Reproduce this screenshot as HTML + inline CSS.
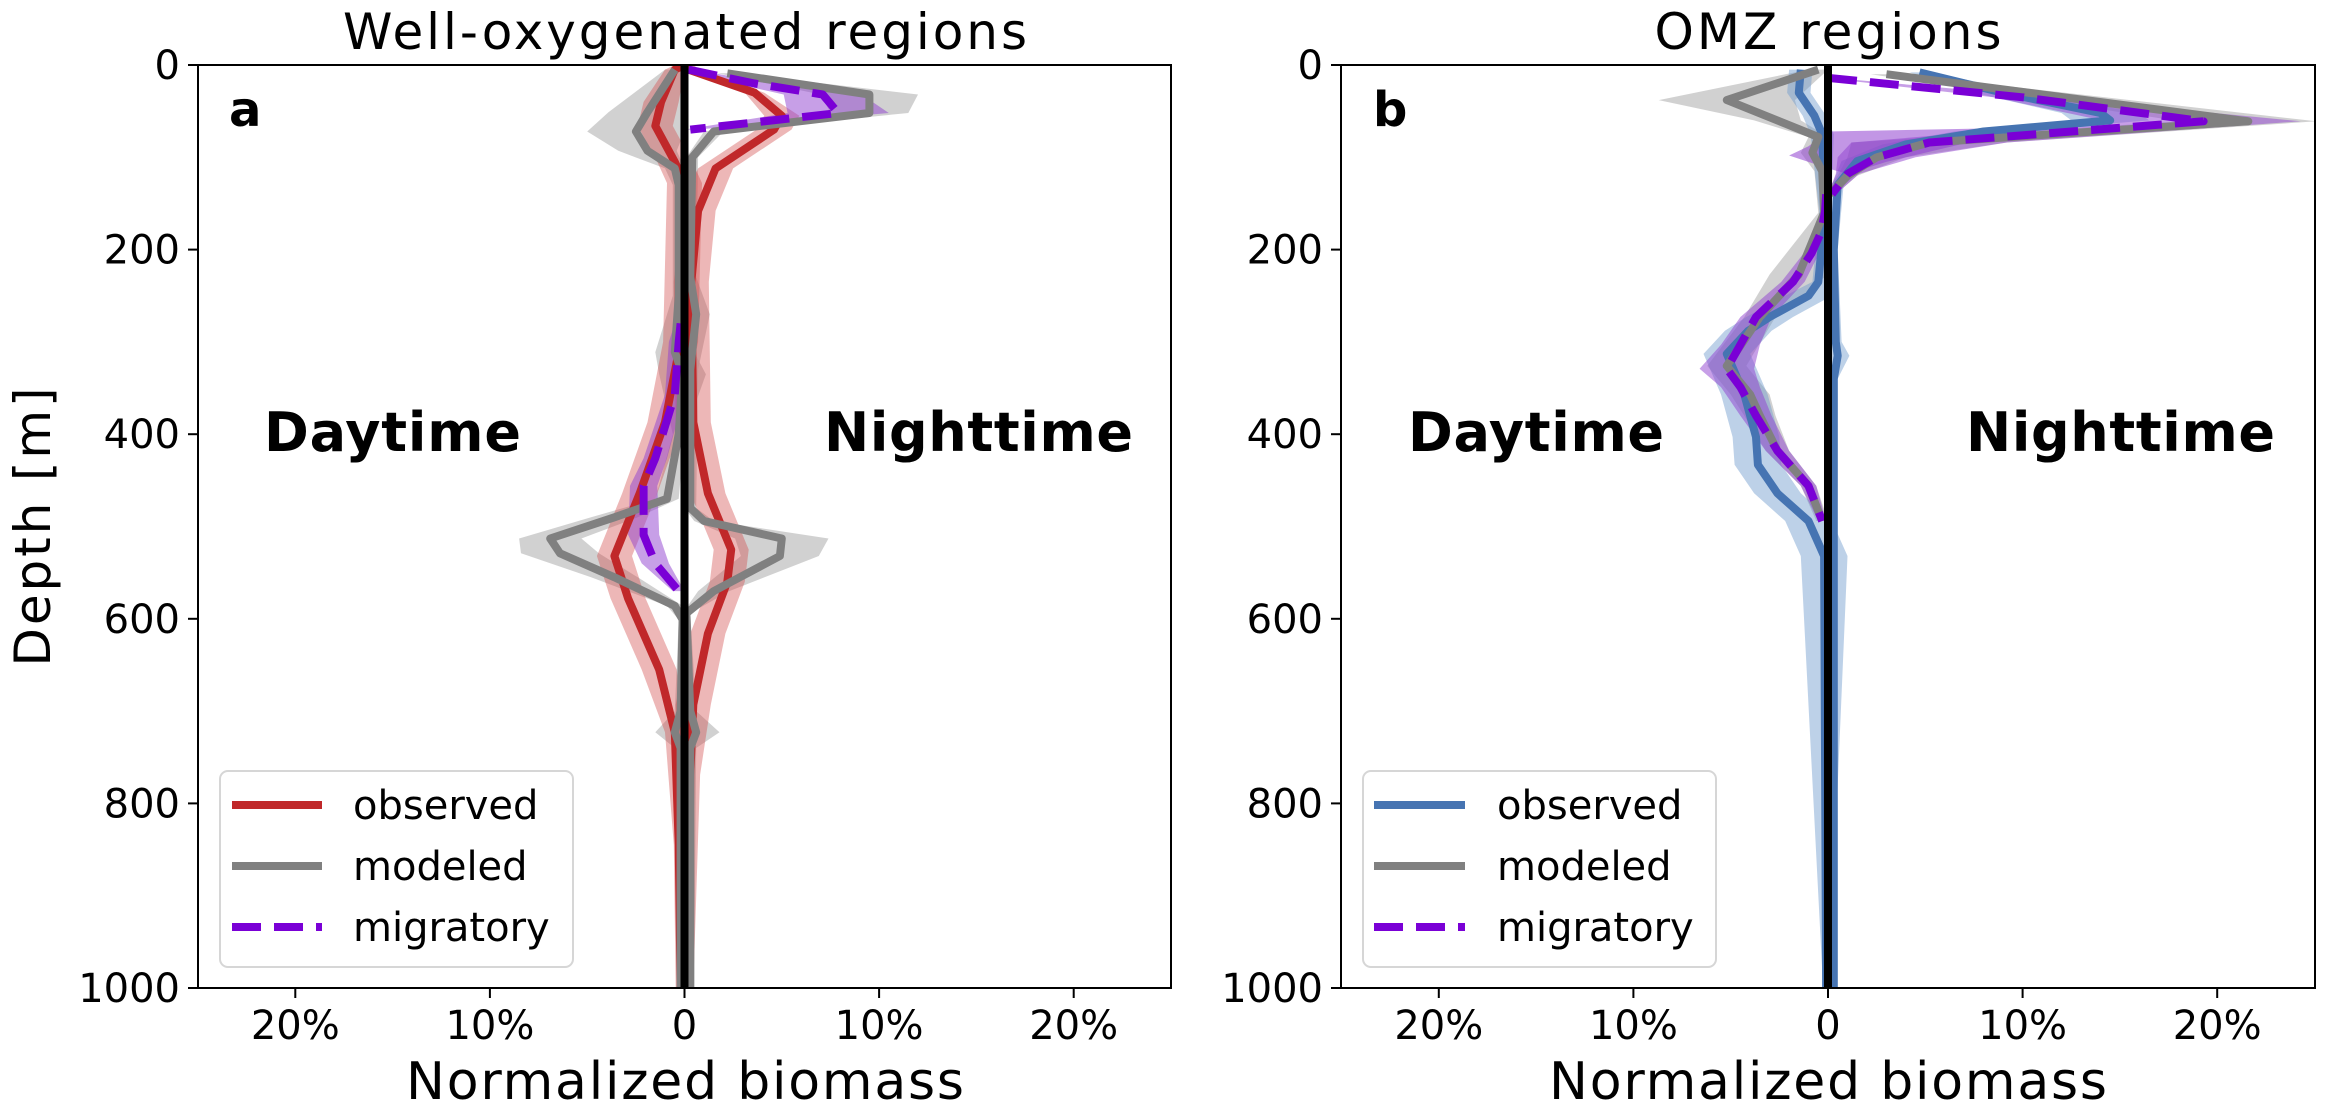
<!DOCTYPE html>
<html><head><meta charset="utf-8"><style>
html,body{margin:0;padding:0;background:#fff}
svg{display:block;font-family:"DejaVu Sans","Liberation Sans",sans-serif}
</style></head><body>
<svg id="s" width="2329" height="1105" viewBox="0 0 2329 1105" xmlns="http://www.w3.org/2000/svg">
<defs>
<clipPath id="ca"><rect x="198" y="65" width="973" height="923"/></clipPath>
<clipPath id="cb"><rect x="1341" y="65" width="974" height="923"/></clipPath>
</defs>
<g id="ga" clip-path="url(#ca)"></g>
<g id="gb" clip-path="url(#cb)"></g>
<g id="axes" fill="none" stroke="#000" stroke-width="2">
<rect x="198" y="65" width="973" height="923"/>
<rect x="1341" y="65" width="974" height="923"/>
</g>
<g id="ticks" stroke="#000" stroke-width="2"></g>
<g font-size="40" fill="#000" id="labels"></g>
<text x="685" y="49" font-size="50" text-anchor="middle" textLength="684">Well-oxygenated regions</text>
<text x="1828" y="49" font-size="50" text-anchor="middle" textLength="347">OMZ regions</text>
<text x="685" y="1099" font-size="52" text-anchor="middle" textLength="558">Normalized biomass</text>
<text x="1828" y="1099" font-size="52" text-anchor="middle" textLength="558">Normalized biomass</text>
<text transform="translate(50,527) rotate(-90)" font-size="50" text-anchor="middle" textLength="279">Depth [m]</text>
<text x="229" y="126" font-size="48" font-weight="bold">a</text>
<text x="1373" y="126" font-size="48" font-weight="bold">b</text>
<g font-weight="bold" font-size="54">
<text x="264" y="451" textLength="257">Daytime</text>
<text x="824" y="451" textLength="309">Nighttime</text>
<text x="1408" y="451" textLength="256">Daytime</text>
<text x="1966" y="451" textLength="309">Nighttime</text>
</g>
<g>
<rect x="220" y="771" width="353" height="196" rx="8" fill="#fff" stroke="#d6d6d6" stroke-width="2"/>
<line x1="232" y1="805" x2="322" y2="805" stroke="#c0282a" stroke-width="8"/>
<line x1="232" y1="866" x2="322" y2="866" stroke="#808080" stroke-width="8"/>
<line x1="232" y1="927" x2="322" y2="927" stroke="#7a00d6" stroke-width="8" stroke-dasharray="29,13"/>
<text x="353" y="819" font-size="40">observed</text>
<text x="353" y="880" font-size="40">modeled</text>
<text x="353" y="941" font-size="40">migratory</text>
<rect x="1363" y="771" width="353" height="196" rx="8" fill="#fff" stroke="#d6d6d6" stroke-width="2"/>
<line x1="1374" y1="805" x2="1465" y2="805" stroke="#4674b2" stroke-width="8"/>
<line x1="1374" y1="866" x2="1465" y2="866" stroke="#808080" stroke-width="8"/>
<line x1="1374" y1="927" x2="1465" y2="927" stroke="#7a00d6" stroke-width="8" stroke-dasharray="29,13"/>
<text x="1497" y="819" font-size="40">observed</text>
<text x="1497" y="880" font-size="40">modeled</text>
<text x="1497" y="941" font-size="40">migratory</text>
</g>
</svg>
<script>
var NS="http://www.w3.org/2000/svg";
function el(p,t,a){var e=document.createElementNS(NS,t);for(var k in a)e.setAttribute(k,a[k]);p.appendChild(e);return e;}
var Y=function(d){return 65+d*0.923;};
function mk(x0){return function(v){return x0+v*19.46;};}
function line(g,X,pts,col,dash){var d=pts.map(function(p,i){return (i?"L":"M")+X(p[0]).toFixed(1)+","+Y(p[1]).toFixed(1);}).join("");var a={d:d,fill:"none",stroke:col,"stroke-width":8,"stroke-linejoin":"round"};if(dash){a["stroke-dasharray"]="29,13";}el(g,"path",a);}
function band(g,X,pts,col,op){var L=[],R=[];pts.forEach(function(p){var w=p.length>2?p[2]:0.8;L.push(X(p[0]-w).toFixed(1)+","+Y(p[1]).toFixed(1));R.unshift(X(p[0]+w).toFixed(1)+","+Y(p[1]).toFixed(1));});el(g,"polygon",{points:L.concat(R).join(" "),fill:col,"fill-opacity":op});}
function poly(g,X,pts,col,op){el(g,"polygon",{points:pts.map(function(p){return X(p[0]).toFixed(1)+","+Y(p[1]).toFixed(1)}).join(" "),fill:col,"fill-opacity":op});}
function rw(p){var d=p[1];var w=d<40?0.5:(d<700?0.9:(d<780?0.5:0.25));return[p[0],p[1],w];}
function bw(p){var d=p[1];var w=d<100?0.6:(d<240?0.3:(d<540?1.2:0.15));return[p[0],p[1],w];}
// Panel a
var ga=document.getElementById("ga"),Xa=mk(684.5);
var rdA=[[0,0],[-0.5,5],[-1.2,40],[-1.5,66],[-0.5,105],[0,128],[-0.2,300],[-1,387],[-2.3,464],[-3.6,532],[-2.9,578],[-1.3,655],[-0.5,723],[-0.3,845],[-0.2,1000]];
var rnA=[[0,0],[0.2,5],[3.6,30],[5,55],[4.6,70],[1.6,112],[0.7,158],[0.35,235],[0.45,387],[1.2,464],[2.4,525],[2.2,560],[1.2,616],[0.45,693],[0.3,769],[0.2,1000]];
var gnA=[[2.2,9,0.5],[9.5,32,2.5],[9.5,52,2],[1.5,72,0.5],[0.4,100,0.3],[0.3,230,0.3],[0.6,270,0.7],[0.3,330,0.4],[0.3,480,0.3],[1,494,0.5],[5,513,2.4],[4.9,532,2],[1.5,570,0.8],[0.1,594,0.2],[0.3,700,0.3],[0.6,723,1.2],[0.3,740,0.3],[0.3,1000,0.2]];
var gdA=[[-0.5,5,0.5],[-1.9,51,2],[-2.5,72,2.5],[-1.9,93,1.5],[-0.5,112,0.5],[-0.3,130,0.3],[-0.3,250,0.3],[-0.5,311,1],[-0.1,335,1.2],[-0.3,400,0.3],[-0.9,470,0.6],[-3.6,490,1.2],[-6.9,513,1.6],[-6.4,529,2],[-3.6,555,1.2],[-0.5,586,0.4],[-0.1,601,0.2],[-0.2,700,0.3],[-0.5,723,1],[-0.2,740,0.3],[-0.2,1000,0.2]];
var pnA=[[0.2,5,0.2],[3.6,20,1],[7.1,32,2],[7.9,52,2.6],[0.3,70,0.3]];
var pdA=[[-0.2,280,0.3],[-0.3,300,0.5],[-0.5,357,0.5],[-1.5,426,0.6],[-2.1,456,0.7],[-2.1,509,0.8],[-1.5,540,0.7],[-0.3,570,0.3]];
band(ga,Xa,gnA,"#b8b8b8",0.65);band(ga,Xa,gdA,"#b8b8b8",0.65);
band(ga,Xa,rdA.map(rw),"#d24a4a",0.4);band(ga,Xa,rnA.map(rw),"#d24a4a",0.4);
band(ga,Xa,pnA,"#9040d0",0.5);band(ga,Xa,pdA,"#9040d0",0.5);
line(ga,Xa,rdA,"#c0282a");line(ga,Xa,rnA,"#c0282a");
line(ga,Xa,gdA,"#808080");line(ga,Xa,gnA,"#808080");
line(ga,Xa,pnA,"#7a00d6",1);line(ga,Xa,pdA,"#7a00d6",1);
el(ga,"line",{x1:684.5,y1:65,x2:684.5,y2:988,stroke:"#000","stroke-width":8});
// Panel b
var gb=document.getElementById("gb"),Xb=mk(1828);
var bdB=[[-1.4,5],[-1.5,30],[-0.7,55],[-0.3,75],[-0.15,158],[-0.5,235],[-1,250],[-3,273],[-4.1,288],[-5.2,313],[-4.3,357],[-3.7,403],[-3.6,433],[-2.6,464],[-1,494],[-0.2,532],[-0.1,1000]];
var bnB=[[4.7,8,0.5],[9,30,1.5],[14,52,2],[14.5,60,2],[8,72,1.5],[4,86,1.2],[1.5,104,0.8],[0.5,130,0.3],[0.3,200,0.2],[0.4,300,0.3],[0.5,315,0.6],[0.3,340,0.2],[0.3,1000,0.15]];
var gdB=[[-0.5,5,0.5],[-5.2,38,3.5],[-2.6,60,1.2],[-0.5,78,0.5],[-0.8,95,0.6],[-0.3,115,0.4],[-0.2,160,0.3],[-1.5,227,1.5],[-3.5,273,0.8],[-5.2,326,1],[-4,357,1],[-3.5,380,0.8],[-2.6,418,0.6],[-1,456,0.4],[-0.3,494,0.3]];
var gnB=[[3,10,0.8],[21.6,61,3.5],[5.2,84,4],[2.5,100,1.5],[1,120,0.5],[0.1,140,0.3]];
var pnB=[[0,14,0.2],[10,35,1.5],[19.3,61,5],[5.2,84,4],[2.5,100,2],[1,118,0.6],[0.2,140,0.2]];
var pdB=[[-0.1,140,0.2],[-0.15,158,0.2],[-0.35,181,0.3],[-0.85,204,0.4],[-1.8,235,0.6],[-3.7,273,0.8],[-4.5,303,1],[-5.2,329,1.4],[-4.5,349,1],[-3.7,380,0.8],[-2.6,418,0.6],[-1,456,0.4],[-0.3,494,0.2]];
band(gb,Xb,gnB,"#b8b8b8",0.65);band(gb,Xb,gdB,"#b8b8b8",0.65);
band(gb,Xb,bdB.map(bw),"#6d98cc",0.45);band(gb,Xb,bnB,"#6d98cc",0.45);
band(gb,Xb,pnB,"#9040d0",0.5);band(gb,Xb,pdB,"#9040d0",0.5);
poly(gb,Xb,[[0,72],[10,68],[7,85],[3,105],[1,118],[0,112],[-2,98],[-1,88]],"#9040d0",0.55);
line(gb,Xb,bdB,"#4674b2");line(gb,Xb,bnB,"#4674b2");
line(gb,Xb,gdB,"#808080");line(gb,Xb,gnB,"#808080");
line(gb,Xb,pnB,"#7a00d6",1);line(gb,Xb,pdB,"#7a00d6",1);
el(gb,"line",{x1:1828,y1:65,x2:1828,y2:988,stroke:"#000","stroke-width":8});
// ticks & labels
var tk=document.getElementById("ticks"),lb=document.getElementById("labels");
[[198,684.5],[1341,1828]].forEach(function(a){
 for(var d=0;d<=1000;d+=200){var y=Y(d);el(tk,"line",{x1:a[0]-10,y1:y,x2:a[0],y2:y});var t=el(lb,"text",{x:a[0]-18,y:y+14,"text-anchor":"end"});t.textContent=d;}
 [-20,-10,0,10,20].forEach(function(v){var x=a[1]+v*19.46;el(tk,"line",{x1:x,y1:988,x2:x,y2:998});var t=el(lb,"text",{x:x,y:1039,"text-anchor":"middle"});t.textContent=v==0?"0":Math.abs(v)+"%";});
});
</script>
</body></html>
